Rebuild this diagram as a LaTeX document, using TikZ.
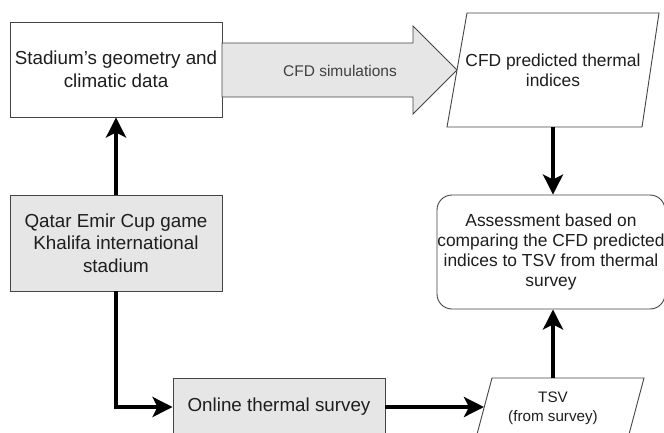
\documentclass[tikz,border=0pt]{standalone}
\usepackage{fontspec}
\setmainfont{Liberation Sans}
\usetikzlibrary{arrows.meta}
\definecolor{boxgray}{HTML}{E6E6E6}
\definecolor{edgegray}{HTML}{444444}
\definecolor{txtc}{HTML}{1E1E1E}
\tikzset{
  boxbase/.style={draw=edgegray, line width=0.9pt, inner sep=0pt, align=center, text=txtc},
  bigtxt/.style={font=\fontsize{18.8}{22.6}\selectfont},
  midtxt/.style={font=\fontsize{17.4}{20}\selectfont},
  smalltxt/.style={font=\fontsize{15.2}{19}\selectfont},
  txtonly/.style={inner sep=0pt, align=center, text=txtc},
  flow/.style={line width=4pt, draw=black, -{Stealth[length=20pt, width=20pt, inset=5pt]}},
  outline/.style={draw=edgegray, line width=0.9pt},
}
\begin{document}
\begin{tikzpicture}[x=1pt, y=-1pt]
\useasboundingbox (0,0) rectangle (664,432);
\clip (0,0) rectangle (664,432);
\fill[white] (0,0) rectangle (664,432);

% Stadium geometry box
\node[boxbase, bigtxt, minimum width=212pt, minimum height=95pt] (geo) at (116,69.5)
  {Stadium's geometry and\\climatic data};

% Qatar box
\node[boxbase, bigtxt, fill=boxgray, minimum width=212pt, minimum height=96pt] (qatar) at (116,243)
  {Qatar Emir Cup game\\Khalifa international\\stadium};

% Online survey box
\node[boxbase, bigtxt, fill=boxgray, minimum width=212pt, minimum height=58pt] (online) at (279,407)
  {Online thermal survey};

% Block arrow (CFD simulations)
\draw[outline, fill=boxgray] (222,43) -- (413,43) -- (413,26) -- (457,70) -- (413,114) -- (413,97) -- (222,97) -- cycle;
\node[txtonly, font=\fontsize{15.5}{18}\selectfont, text=black!75] (sim) at (340,71) {CFD simulations};

% CFD predicted parallelogram
\draw[outline, fill=white] (467,13) -- (659,13) -- (642,127) -- (447,127) -- cycle;
\node[txtonly, midtxt] (cfd) at (553,70.5) {CFD predicted thermal\\indices};
\coordinate (cfdS) at (553,127);

% Assessment rounded box
\node[boxbase, midtxt, rounded corners=15pt, minimum width=228pt, minimum height=114pt] (ass) at (551,252)
  {Assessment based on\\comparing the CFD predicted\\indices to TSV from thermal\\survey};

% TSV parallelogram
\draw[outline, fill=white] (492,378) -- (644,378) -- (628,438) -- (476,438) -- cycle;
\node[txtonly, smalltxt] (tsv) at (553,408.5) {TSV\\(from survey)};
\coordinate (tsvN) at (553,378);
\coordinate (tsvW) at (484,407);

% Connectors
\draw[flow] (qatar.north) -- (geo.south);
\draw[flow] (qatar.south) |- (online.west);
\draw[flow] (online.east) -- (tsvW);
\draw[flow] (cfdS) -- (cfdS |- ass.north);
\draw[flow] (tsvN) -- (tsvN |- ass.south);
\end{tikzpicture}
\end{document}
